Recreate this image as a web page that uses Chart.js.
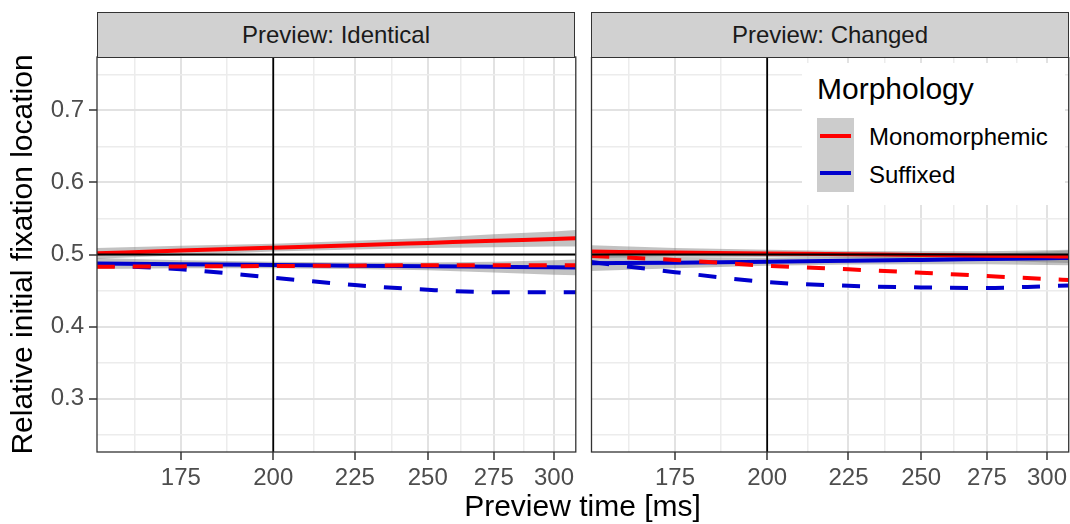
<!DOCTYPE html>
<html>
<head>
<meta charset="utf-8">
<script src="https://cdn.jsdelivr.net/npm/chart.js@4.4.1/dist/chart.umd.min.js"></script>
<style>
  html, body { margin: 0; padding: 0; background: #fff; overflow: hidden; }
  #wrap { position: relative; width: 1070px; height: 524px; overflow: hidden; font-family: 'Liberation Sans', Arial, sans-serif; }
  canvas { position: absolute; }
  .strip { position: absolute; top: 12px; height: 44px; background: #d1d1d1; border: 1.3px solid #333;
           display: flex; align-items: center; justify-content: center; font-size: 24px; color: #1a1a1a; }
  .txt { position: absolute; white-space: nowrap; color: #000; }
</style>
</head>
<body>
<div id="wrap">
  <canvas id="left" width="578" height="472" style="left:0; top:52px;"></canvas>
  <canvas id="right" width="490" height="467" style="left:581px; top:57px;"></canvas>
  <div class="strip" style="left:97px; width:476px;">Preview: Identical</div>
  <div class="strip" style="left:591px; width:476px;">Preview: Changed</div>
  <div class="txt" style="left:97px; width:971px; top:491px; font-size:30px; line-height:30px; text-align:center;">Preview time [ms]</div>
  <!-- legend inside the right panel -->
  <div style="position:absolute; left:802px; top:63px; width:263px; height:142px; background:#fff;"></div>
  <div class="txt" style="left:817px; top:74px; font-size:30px; line-height:30px;">Morphology</div>
  <div style="position:absolute; left:817px; top:118px; width:37px; height:74px; background:#cccccc;"></div>
  <div style="position:absolute; left:820px; top:134px; width:31px; height:4px; background:#ff0000;"></div>
  <div style="position:absolute; left:820px; top:171px; width:31px; height:4px; background:#0000cd;"></div>
  <div class="txt" style="left:869px; top:125px; font-size:24px; line-height:24px;">Monomorphemic</div>
  <div class="txt" style="left:869px; top:163px; font-size:24px; line-height:24px;">Suffixed</div>
</div>
<script>
// x positions (ms) where the curves were read
const previewTimes = [155, 175, 200, 225, 250, 275, 300, 310];

// Preview: Identical
const idMonoFit  = [0.5017, 0.5054, 0.5094, 0.5129, 0.5161, 0.5190, 0.5216, 0.5226];
const idMonoLow  = [0.494, 0.499, 0.504, 0.507, 0.509, 0.510, 0.511, 0.511];
const idMonoHigh = [0.509, 0.512, 0.515, 0.519, 0.523, 0.528, 0.532, 0.534];
const idSuffFit  = [0.4875, 0.4866, 0.4855, 0.4845, 0.4837, 0.4829, 0.4822, 0.4820];
const idSuffLow  = [0.480, 0.481, 0.481, 0.480, 0.478, 0.475, 0.472, 0.471];
const idSuffHigh = [0.495, 0.492, 0.490, 0.489, 0.489, 0.490, 0.492, 0.493];
const idMonoObs  = [0.483, 0.4835, 0.484, 0.4845, 0.485, 0.485, 0.485, 0.485];
const idSuffObs  = [0.4855, 0.4794, 0.4678, 0.4575, 0.4510, 0.4476, 0.4475, 0.4475];

// Preview: Changed
const chMonoFit  = [0.5040, 0.5028, 0.5015, 0.5003, 0.4993, 0.4983, 0.4975, 0.4972];
const chMonoLow  = [0.495, 0.497, 0.4965, 0.4955, 0.494, 0.492, 0.489, 0.488];
const chMonoHigh = [0.513, 0.509, 0.5065, 0.505, 0.5045, 0.5045, 0.506, 0.5065];
const chSuffFit  = [0.4878, 0.4886, 0.4898, 0.4912, 0.4925, 0.4937, 0.4948, 0.4952];
const chSuffLow  = [0.477, 0.481, 0.4845, 0.486, 0.4865, 0.4865, 0.4855, 0.485];
const chSuffHigh = [0.4985, 0.4965, 0.4955, 0.4965, 0.4985, 0.501, 0.504, 0.5055];
const chMonoObs  = [0.498, 0.4924, 0.4844, 0.4794, 0.4747, 0.4701, 0.466, 0.4646];
const chSuffObs  = [0.4895, 0.4755, 0.4618, 0.4565, 0.4543, 0.4535, 0.456, 0.457];

// axes
const xMajor = [175, 200, 225, 250, 275, 300];
const xMinor = [163.7, 187.08, 212.13, 237.17, 262.2, 287.2];
const yMajor = [0.3, 0.4, 0.5, 0.6, 0.7];
const yMinor = [0.25, 0.35, 0.45, 0.55, 0.65, 0.75];
const xLimits = [155.05, 309.6];
const yLimits = [0.2257, 0.7743];
const refX = 200;
const refY = 0.5;

const RED = '#ff0000';
const BLUE = '#0000cd';
const RIBBON = 'rgba(120,120,120,0.45)';
const FONT = "'Liberation Sans', Arial, sans-serif";

Chart.defaults.font.family = FONT;
Chart.defaults.animation = false;

function pts(values) {
    return previewTimes.map((t, i) => ({ x: t, y: values[i] }));
}

function isIn(list, v) {
    return list.some(m => Math.abs(m - v) < 1e-6);
}

function lineSet(values, color, dashed) {
    return {
        data: pts(values),
        borderColor: color,
        borderWidth: 4,
        borderDash: dashed ? [18, 18] : [],
        pointRadius: 0,
        fill: false,
        tension: 0.4,
        cubicInterpolationMode: 'monotone',
        order: 1
    };
}

function ribbon(low, high) {
    return [
        { data: pts(low), borderWidth: 0, pointRadius: 0, fill: false, order: 2 },
        { data: pts(high), borderWidth: 0, pointRadius: 0, fill: '-1', backgroundColor: RIBBON, order: 2 }
    ];
}

function refLines() {
    return [
        { data: [{ x: xLimits[0], y: refY }, { x: xLimits[1], y: refY }], borderColor: '#000', borderWidth: 1.8, pointRadius: 0, fill: false, order: 0 },
        { data: [{ x: refX, y: yLimits[0] }, { x: refX, y: yLimits[1] }], borderColor: '#000', borderWidth: 1.8, pointRadius: 0, fill: false, order: 0 }
    ];
}

const panelBorder = {
    id: 'panelBorder',
    afterDraw(chart) {
        const a = chart.chartArea;
        const ctx = chart.ctx;
        ctx.save();
        ctx.strokeStyle = '#333';
        ctx.lineWidth = 1.3;
        ctx.strokeRect(a.left, a.top, a.right - a.left, a.bottom - a.top);
        ctx.restore();
    }
};

function makePanel(id, sets, showY) {
    const datasets = [
        ...ribbon(sets.monoLow, sets.monoHigh),
        ...ribbon(sets.suffLow, sets.suffHigh),
        lineSet(sets.monoObs, RED, true),
        lineSet(sets.suffObs, BLUE, true),
        lineSet(sets.monoFit, RED, false),
        lineSet(sets.suffFit, BLUE, false),
        ...refLines()
    ];

    return new Chart(document.getElementById(id), {
        type: 'line',
        data: { datasets },
        plugins: [panelBorder],
        options: {
            responsive: false,
            devicePixelRatio: 1,
            layout: { padding: 0 },
            plugins: { legend: { display: false }, tooltip: { enabled: false } },
            scales: {
                x: {
                    type: 'logarithmic',
                    min: xLimits[0],
                    max: xLimits[1],
                    afterBuildTicks: (scale) => {
                        scale.ticks = [...xMinor, ...xMajor].sort((a, b) => a - b).map(v => ({ value: v }));
                    },
                    afterFit: (scale) => { scale.height = 72; },
                    border: { display: false },
                    grid: {
                        color: (c) => c.tick && isIn(xMajor, c.tick.value) ? '#e2e2e2' : '#ececec',
                        lineWidth: (c) => c.tick && isIn(xMajor, c.tick.value) ? 2 : 1.5,
                        tickColor: (c) => c.tick && isIn(xMajor, c.tick.value) ? '#333' : 'rgba(0,0,0,0)',
                        tickWidth: 1.5,
                        tickLength: 8
                    },
                    ticks: {
                        autoSkip: false,
                        maxRotation: 0,
                        padding: 4,
                        color: '#4d4d4d',
                        font: { size: 24 },
                        callback: (v) => isIn(xMajor, v) ? String(Math.round(v)) : []
                    }
                },
                y: {
                    type: 'linear',
                    min: yLimits[0],
                    max: yLimits[1],
                    afterBuildTicks: (scale) => {
                        scale.ticks = [...yMinor, ...yMajor].sort((a, b) => a - b).map(v => ({ value: v }));
                    },
                    afterFit: (scale) => { scale.width = showY ? 97 : 10.5; },
                    border: { display: false },
                    grid: {
                        color: (c) => c.tick && isIn(yMajor, c.tick.value) ? '#e2e2e2' : '#ececec',
                        lineWidth: (c) => c.tick && isIn(yMajor, c.tick.value) ? 2 : 1.5,
                        tickColor: (c) => showY && c.tick && isIn(yMajor, c.tick.value) ? '#333' : 'rgba(0,0,0,0)',
                        tickWidth: 1.5,
                        tickLength: 8,
                        drawTicks: showY
                    },
                    ticks: {
                        display: showY,
                        autoSkip: false,
                        padding: 5,
                        color: '#4d4d4d',
                        font: { size: 24 },
                        callback: (v) => isIn(yMajor, v) ? v.toFixed(1) : []
                    },
                    title: {
                        display: showY,
                        text: 'Relative initial fixation location',
                        color: '#000',
                        font: { size: 30 },
                        padding: { top: 6, bottom: 0 }
                    }
                }
            }
        }
    });
}

makePanel('left', {
    monoFit: idMonoFit, monoLow: idMonoLow, monoHigh: idMonoHigh,
    suffFit: idSuffFit, suffLow: idSuffLow, suffHigh: idSuffHigh,
    monoObs: idMonoObs, suffObs: idSuffObs
}, true);

makePanel('right', {
    monoFit: chMonoFit, monoLow: chMonoLow, monoHigh: chMonoHigh,
    suffFit: chSuffFit, suffLow: chSuffLow, suffHigh: chSuffHigh,
    monoObs: chMonoObs, suffObs: chSuffObs
}, false);
</script>
</body>
</html>
